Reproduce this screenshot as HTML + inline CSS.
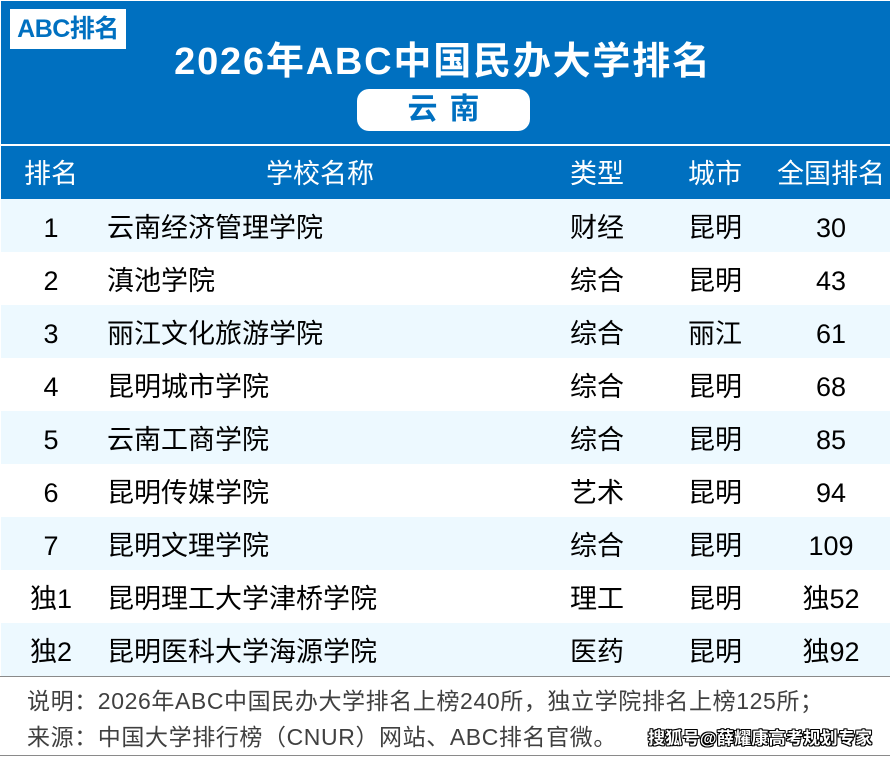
<!DOCTYPE html>
<html><head><meta charset="utf-8"><style>
html,body{margin:0;padding:0;}
body{width:890px;height:757px;position:relative;background:#fff;overflow:hidden;font-family:"Liberation Sans","Noto Sans CJK SC",sans-serif;}
.abs{position:absolute;}
.hdr{left:1px;top:1px;width:889px;height:143px;background:#0070C0;}
.hrow{left:1px;top:146px;width:889px;height:53px;background:#0070C0;}
.logo{left:10px;top:9px;width:116px;height:40px;background:#fff;color:#0070C0;font-weight:bold;font-size:25px;line-height:40px;text-align:center;letter-spacing:-0.5px;}
.title{left:0;top:38px;width:886px;text-align:center;color:#fff;font-weight:bold;font-size:38px;line-height:48px;letter-spacing:1.8px;}
.pill{left:357px;top:89px;width:173px;height:42px;background:#fff;border-radius:12px;color:#0070C0;font-weight:bold;font-size:30px;line-height:42px;text-align:center;letter-spacing:12px;text-indent:12px;}
.c{position:absolute;font-size:27px;line-height:53px;white-space:nowrap;}
.h{color:#fff;}
.b{color:#000;}
.row{position:absolute;left:1px;width:889px;height:53px;}
.sh{background:#EDF9FF;}
.ctr{text-align:center;}
.t{margin-top:3px;}
.foot{left:27px;color:#404040;font-size:23px;white-space:nowrap;line-height:30px;letter-spacing:0.6px;}
.line{left:0;width:890px;height:1px;background:#8a8a8a;}
.wm{left:648px;top:727px;font-size:17px;font-weight:bold;color:#fff;white-space:nowrap;line-height:24px;letter-spacing:0.3px;
text-shadow:1px 0 0 #000,-1px 0 0 #000,0 1px 0 #000,0 -1px 0 #000,1px 1px 0 #000,-1px -1px 0 #000,1px -1px 0 #000,-1px 1px 0 #000;}
</style></head><body>
<div class="abs hdr"></div>
<div class="abs logo">ABC排名</div>
<div class="abs title">2026年ABC中国民办大学排名</div>
<div class="abs pill">云南</div>
<div class="abs hrow"></div>
<div class="c h ctr" style="left:0;width:102px;top:148px;">排名</div>
<div class="c h ctr" style="left:220px;width:200px;top:148px;">学校名称</div>
<div class="c h ctr" style="left:547px;width:100px;top:148px;">类型</div>
<div class="c h ctr" style="left:665px;width:100px;top:148px;">城市</div>
<div class="c h ctr" style="left:771px;width:120px;top:148px;">全国排名</div>

<div class="row sh" style="top:199px"></div>
<div class="row sh" style="top:305px"></div>
<div class="row sh" style="top:411px"></div>
<div class="row sh" style="top:517px"></div>
<div class="row sh" style="top:623px"></div>

<div class="c b ctr" style="left:0;width:102px;top:202px;">1</div>
<div class="c b" style="left:107px;top:202px;">云南经济管理学院</div>
<div class="c b ctr" style="left:547px;width:100px;top:202px;">财经</div>
<div class="c b ctr" style="left:665px;width:100px;top:202px;">昆明</div>
<div class="c b ctr" style="left:771px;width:120px;top:202px;">30</div>

<div class="c b ctr" style="left:0;width:102px;top:255px;">2</div>
<div class="c b" style="left:107px;top:255px;">滇池学院</div>
<div class="c b ctr" style="left:547px;width:100px;top:255px;">综合</div>
<div class="c b ctr" style="left:665px;width:100px;top:255px;">昆明</div>
<div class="c b ctr" style="left:771px;width:120px;top:255px;">43</div>

<div class="c b ctr" style="left:0;width:102px;top:308px;">3</div>
<div class="c b" style="left:107px;top:308px;">丽江文化旅游学院</div>
<div class="c b ctr" style="left:547px;width:100px;top:308px;">综合</div>
<div class="c b ctr" style="left:665px;width:100px;top:308px;">丽江</div>
<div class="c b ctr" style="left:771px;width:120px;top:308px;">61</div>

<div class="c b ctr" style="left:0;width:102px;top:361px;">4</div>
<div class="c b" style="left:107px;top:361px;">昆明城市学院</div>
<div class="c b ctr" style="left:547px;width:100px;top:361px;">综合</div>
<div class="c b ctr" style="left:665px;width:100px;top:361px;">昆明</div>
<div class="c b ctr" style="left:771px;width:120px;top:361px;">68</div>

<div class="c b ctr" style="left:0;width:102px;top:414px;">5</div>
<div class="c b" style="left:107px;top:414px;">云南工商学院</div>
<div class="c b ctr" style="left:547px;width:100px;top:414px;">综合</div>
<div class="c b ctr" style="left:665px;width:100px;top:414px;">昆明</div>
<div class="c b ctr" style="left:771px;width:120px;top:414px;">85</div>

<div class="c b ctr" style="left:0;width:102px;top:467px;">6</div>
<div class="c b" style="left:107px;top:467px;">昆明传媒学院</div>
<div class="c b ctr" style="left:547px;width:100px;top:467px;">艺术</div>
<div class="c b ctr" style="left:665px;width:100px;top:467px;">昆明</div>
<div class="c b ctr" style="left:771px;width:120px;top:467px;">94</div>

<div class="c b ctr" style="left:0;width:102px;top:520px;">7</div>
<div class="c b" style="left:107px;top:520px;">昆明文理学院</div>
<div class="c b ctr" style="left:547px;width:100px;top:520px;">综合</div>
<div class="c b ctr" style="left:665px;width:100px;top:520px;">昆明</div>
<div class="c b ctr" style="left:771px;width:120px;top:520px;">109</div>

<div class="c b ctr" style="left:0;width:102px;top:573px;">独1</div>
<div class="c b" style="left:107px;top:573px;">昆明理工大学津桥学院</div>
<div class="c b ctr" style="left:547px;width:100px;top:573px;">理工</div>
<div class="c b ctr" style="left:665px;width:100px;top:573px;">昆明</div>
<div class="c b ctr" style="left:771px;width:120px;top:573px;">独52</div>

<div class="c b ctr" style="left:0;width:102px;top:626px;">独2</div>
<div class="c b" style="left:107px;top:626px;">昆明医科大学海源学院</div>
<div class="c b ctr" style="left:547px;width:100px;top:626px;">医药</div>
<div class="c b ctr" style="left:665px;width:100px;top:626px;">昆明</div>
<div class="c b ctr" style="left:771px;width:120px;top:626px;">独92</div>

<div class="abs line" style="top:676px;"></div>
<div class="abs foot" style="top:686px;">说明：2026年ABC中国民办大学排名上榜240所，独立学院排名上榜125所；</div>
<div class="abs foot" style="top:722px;">来源：中国大学排行榜（CNUR）网站、ABC排名官微。</div>
<div class="abs wm">搜狐号@薛耀康高考规划专家</div>
<div class="abs line" style="top:755px;"></div>
</body></html>
